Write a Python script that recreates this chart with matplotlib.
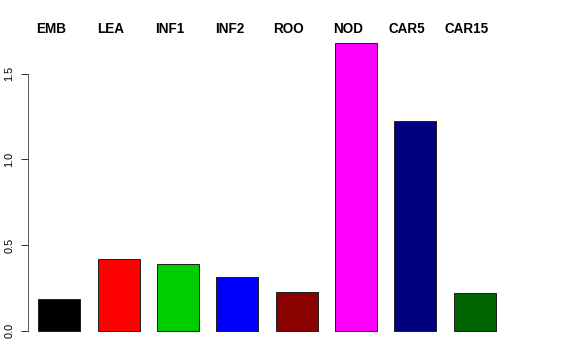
import matplotlib
matplotlib.use("Agg")
import matplotlib.pyplot as plt
import numpy as np

plt.rcParams['font.family'] = ['Liberation Sans', 'DejaVu Sans']

categories = ["EMB", "LEA", "INF1", "INF2", "ROO", "NOD", "CAR5", "CAR15"]
values = [0.187, 0.419, 0.389, 0.315, 0.228, 1.678, 1.226, 0.218]
colors = ["#000000", "#FF0000", "#00CD00", "#0000FF", "#8B0000", "#FF00FF", "#000080", "#006400"]
yticks = [0.0, 0.5, 1.0, 1.5]
ytick_labels = ["0.0", "0.5", "1.0", "1.5"]

fig = plt.figure(figsize=(8, 5), dpi=72)
ax = fig.add_axes([28.3 / 576, (360 - 342.2) / 360, (512 - 28.3) / 576, (342.2 - 31.8) / 360])

x = np.arange(len(categories))
ax.bar(x, values, width=0.708, color=colors, edgecolor="#222222", linewidth=1.0)

ax.set_xlim(-0.523, 7.63)
ax.set_ylim(-0.067, 1.745)

for s in ["top", "right", "bottom"]:
    ax.spines[s].set_visible(False)
ax.spines["left"].set_bounds(0, 1.5)
ax.spines["left"].set_color("#333333")
ax.set_xticks([])
ax.set_yticks(yticks)
ax.set_yticklabels(ytick_labels, rotation=90, va="center", fontsize=11)
ax.tick_params(axis="y", length=7, width=1, pad=7, color="#333333")

for i, c in enumerate(categories):
    ax.text(i - 0.135, 1.0, c, transform=ax.get_xaxis_transform(), ha="center", va="center",
            fontsize=13.5, fontweight="bold")

# place labels at y ~ 29px from top
for t in ax.texts:
    t.set_transform(matplotlib.transforms.blended_transform_factory(ax.transData, fig.transFigure))
    t.set_y((360 - 29) / 360)

fig.savefig("out.png", dpi=72)
